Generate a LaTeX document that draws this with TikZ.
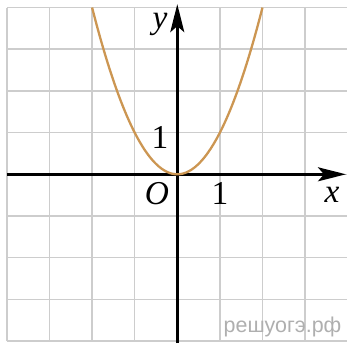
\documentclass[tikz,border=0pt]{standalone}
\usepackage{fontspec}
\setmainfont{Liberation Serif}
\newfontfamily\wmfont{Liberation Sans}
\usetikzlibrary{arrows.meta}
\definecolor{gridgray}{RGB}{205,205,205}
\definecolor{curvecol}{RGB}{204,150,82}
\definecolor{wmgray}{RGB}{175,175,175}
\begin{document}
\begin{tikzpicture}[x=0.426cm,y=0.417cm,
  gridline/.style={draw=gridgray,line width=0.45pt},
  axisline/.style={draw=black,line width=0.7pt,
    -{Stealth[length=0.28cm,width=0.14cm,inset=0.06cm]}},
  curveline/.style={draw=curvecol,line width=0.65pt},
  lbl/.style={inner sep=0pt,anchor=base,font=\fontsize{9.5}{10}\selectfont},
  wm/.style={inner sep=0pt,anchor=base west,text=wmgray,font=\wmfont\fontsize{6.1}{7}\selectfont}]
\useasboundingbox (-4.162,-4.046) rectangle (3.984,4.180);
\fill[white] (-4.162,-4.046) rectangle (3.984,4.180);
% grid
\foreach \i in {-4,...,4} {
  \draw[gridline] (\i,-4) -- (\i,4);
  \draw[gridline] (-4,\i) -- (4,\i);
}
% axes
\coordinate (xs) at (-4,0);
\coordinate (xe) at (3.96,0);
\coordinate (ys) at (0,-4.05);
\coordinate (ye) at (0,4.08);
\draw[axisline] (xs) -- (xe);
\draw[axisline] (ys) -- (ye);
% parabola
\draw[curveline] plot[domain=-2:2,samples=80,smooth] (\x,{\x*\x});
% labels
\node[lbl] (ylab) at (-0.406,3.485) {\textit{y}};
\node[lbl] (one y) at (-0.406,0.63) {1};
\node[lbl] (olab) at (-0.479,-0.736) {\textit{O}};
\node[lbl] (one x) at (1.0,-0.736) {1};
\node[lbl] (xlab) at (3.63,-0.688) {\textit{x}};
\node[wm] (wmark) at (1.073,-3.782) {решуогэ.рф};
\end{tikzpicture}
\end{document}
